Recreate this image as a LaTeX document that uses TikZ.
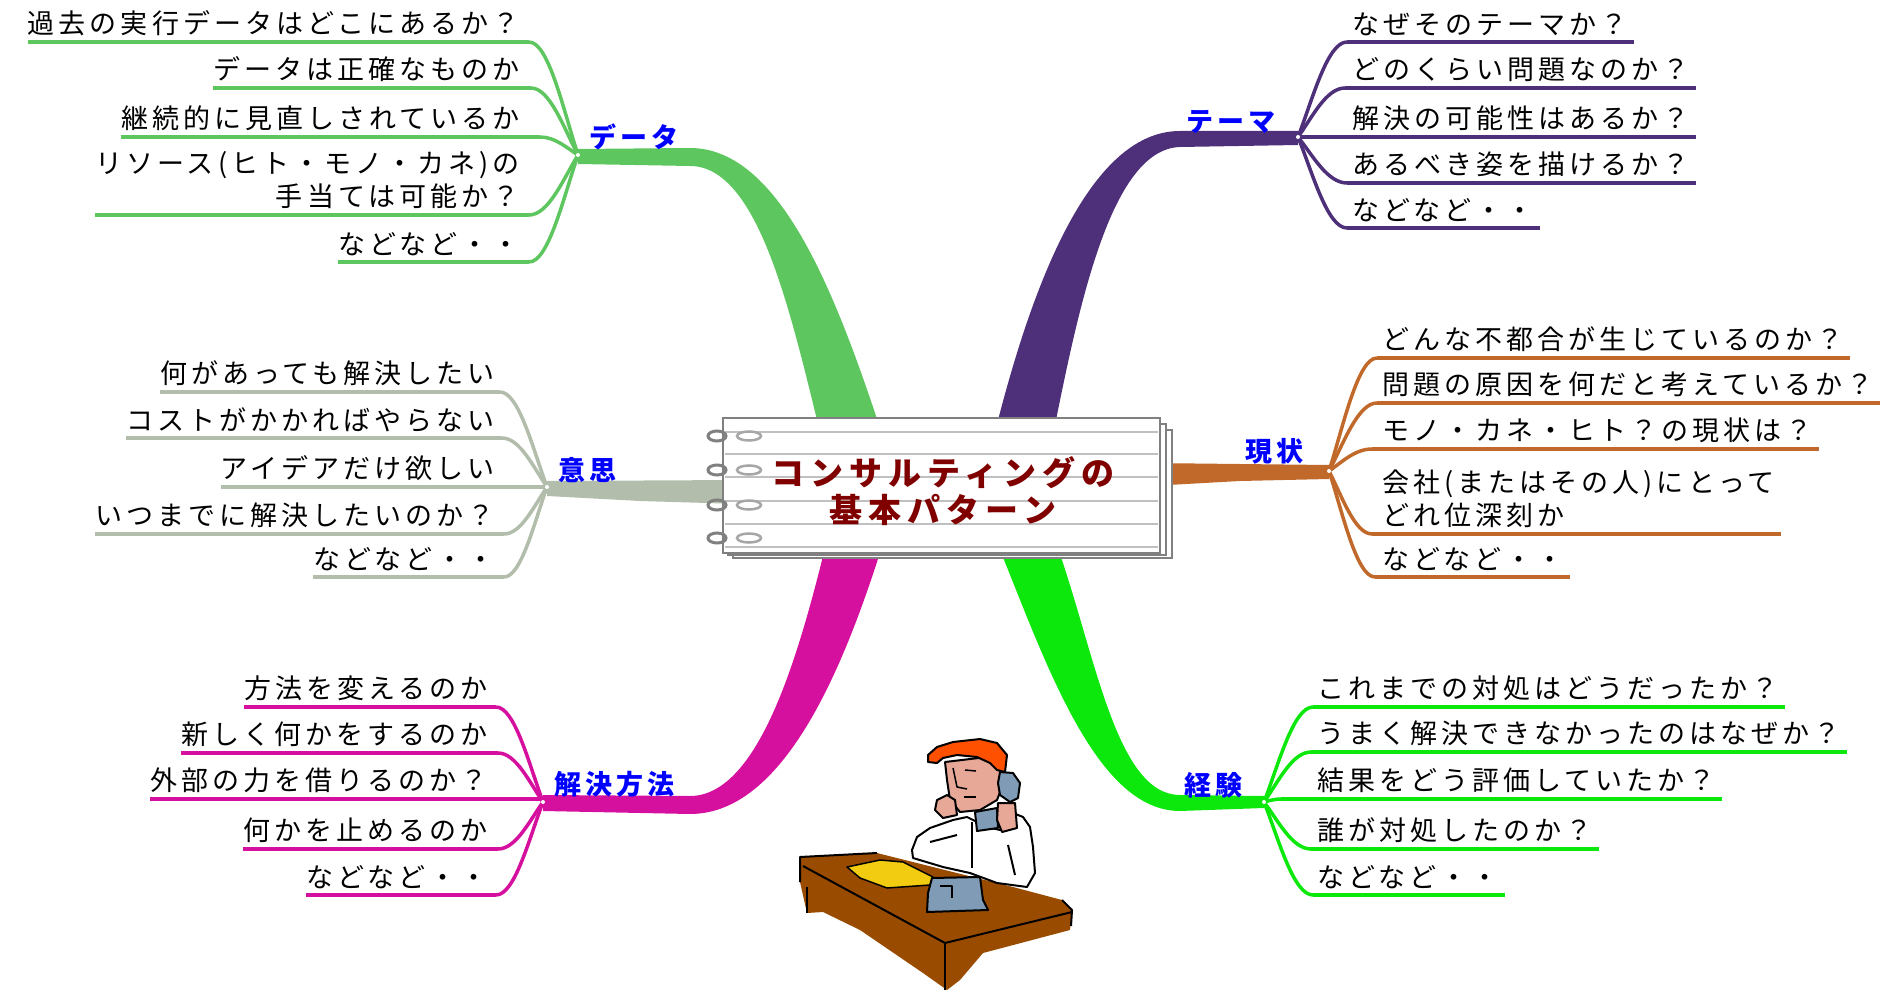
\documentclass[tikz,border=0pt]{standalone}
\usepackage{fontspec}
\newfontfamily\leaffont[LetterSpace=15]{Noto Sans CJK JP}
\newfontfamily\titlefont[LetterSpace=18]{Noto Sans CJK JP}

\definecolor{datagreen}{RGB}{94,198,94}
\definecolor{themepurple}{RGB}{78,48,122}
\definecolor{intentgray}{RGB}{178,189,172}
\definecolor{statusbrown}{RGB}{193,105,42}
\definecolor{methodpink}{RGB}{213,15,158}
\definecolor{expgreen}{RGB}{12,232,12}
\definecolor{labelblue}{RGB}{0,0,255}
\definecolor{titlered}{RGB}{128,0,0}
\definecolor{pagegray}{RGB}{128,128,128}
\definecolor{rulegray}{RGB}{192,192,192}
\definecolor{deskbrown}{RGB}{153,76,0}
\definecolor{paperyellow}{RGB}{242,204,16}
\definecolor{phoneblue}{RGB}{128,155,181}
\definecolor{skin}{RGB}{232,168,152}
\definecolor{hairorange}{RGB}{255,80,0}

\begin{document}
\begin{tikzpicture}[x=1pt, y=-1pt,
    leaf/.style={inner sep=0pt, font=\leaffont\fontsize{27}{33}\selectfont},
    lbl/.style={inner sep=0pt, anchor=south west, text=labelblue, font=\leaffont\bfseries\fontsize{27}{30}\selectfont},
    hub/.style={circle, fill=white, inner sep=0pt, minimum size=4pt},
    uline/.style={line width=4.5pt},
    twig/.style={line width=3.5pt},
    ink/.style={draw=black, line width=2pt, line join=round}]
  \useasboundingbox (0,0) rectangle (1892,992);

  % Main trunks out of the notebook
  \fill[datagreen] (578,149) -- (690,148) .. controls (782,148) and (838,300) .. (884,440)
    -- (822,440) .. controls (792,320) and (760,166) .. (690,166) -- (578,164) -- cycle;
  \fill[themepurple] (1298,131) -- (1180,131) .. controls (1088,131) and (1030,290) .. (993,440)
    -- (1052,440) .. controls (1078,310) and (1110,149) .. (1180,147) -- (1298,145) -- cycle;
  \fill[intentgray] (547,481) -- (740,480) -- (740,504) -- (640,501) -- (547,496) -- cycle;
  \fill[statusbrown] (1150,463) -- (1329,465) -- (1329,479) -- (1240,481) -- (1150,486) -- cycle;
  \fill[methodpink] (543,795) -- (690,796) .. controls (760,796) and (800,650) .. (827,540)
    -- (884,540) .. controls (845,665) and (785,814) .. (690,814) -- (543,811) -- cycle;
  \fill[expgreen] (1264,796) -- (1180,795) .. controls (1115,795) and (1095,650) .. (1055,540)
    -- (996,540) .. controls (1045,660) and (1095,811) .. (1180,811) -- (1264,808) -- cycle;

  % Data branch (top left)
  \coordinate (dj) at (578,155);
  \foreach \n/\yy/\xe/\txt in {1/42/529/{過去の実行データはどこにあるか？},
      2/88/531/{データは正確なものか},
      3/137/540/{継続的に見直しされているか},
      4/215/529/{リソース(ヒト・モノ・カネ)の\\手当ては可能か？},
      5/262/529/{などなど・・}} {
    \node[leaf, anchor=south east, align=right] (d\n) at (520,\yy-6) {\txt};
    \coordinate (du\n) at (\xe,\yy);
    \pgfmathsetmacro\cax{\xe+0.4*(578-\xe)}
    \pgfmathsetmacro\cbx{578-0.3*(578-\xe)}
    \pgfmathsetmacro\cby{155+0.4*(\yy-155)}
    \draw[twig, datagreen] (du\n) .. controls (\cax,\yy) and (\cbx,\cby) .. (dj);
    \draw[uline, datagreen] (d\n.south west |- du\n) -- (du\n);
  }
  \node[lbl] (dlbl) at (589,150) {データ};

  % Theme branch (top right)
  \coordinate (tj) at (1298,137);
  \foreach \n/\yy/\xs/\txt in {1/42/1347/{なぜそのテーマか？},
      2/88/1345/{どのくらい問題なのか？},
      3/137/1317/{解決の可能性はあるか？},
      4/183/1347/{あるべき姿を描けるか？},
      5/228/1347/{などなど・・}} {
    \node[leaf, anchor=south west, align=left] (t\n) at (1352,\yy-6) {\txt};
    \coordinate (tu\n) at (\xs,\yy);
    \pgfmathsetmacro\cax{1298+0.3*(\xs-1298)}
    \pgfmathsetmacro\cay{137+0.4*(\yy-137)}
    \pgfmathsetmacro\cbx{1298+0.6*(\xs-1298)}
    \draw[twig, themepurple] (tj) .. controls (\cax,\cay) and (\cbx,\yy) .. (tu\n);
    \draw[uline, themepurple] (tu\n) -- (t\n.south east |- tu\n) -- ++(6,0);
  }
  \node[lbl] (tlbl) at (1186,134) {テーマ};

  % Intent branch (middle left)
  \coordinate (ij) at (547,487);
  \foreach \n/\yy/\xe/\txt in {1/392/500/{何があっても解決したい},
      2/438/502/{コストがかかればやらない},
      3/487/547/{アイデアだけ欲しい},
      4/534/504/{いつまでに解決したいのか？},
      5/577/504/{などなど・・}} {
    \node[leaf, anchor=south east, align=right] (i\n) at (495,\yy-6) {\txt};
    \coordinate (iu\n) at (\xe,\yy);
    \pgfmathsetmacro\cax{\xe+0.4*(547-\xe)}
    \pgfmathsetmacro\cbx{547-0.3*(547-\xe)}
    \pgfmathsetmacro\cby{487+0.4*(\yy-487)}
    \draw[twig, intentgray] (iu\n) .. controls (\cax,\yy) and (\cbx,\cby) .. (ij);
    \draw[uline, intentgray] (i\n.south west |- iu\n) -- (iu\n);
  }
  \node[lbl] (ilbl) at (558,483) {意思};

  % Status branch (middle right)
  \coordinate (gj) at (1329,471);
  \foreach \n/\yy/\xs/\txt in {1/358/1377/{どんな不都合が生じているのか？},
      2/403/1377/{問題の原因を何だと考えているか？},
      3/449/1372/{モノ・カネ・ヒト？の現状は？},
      4/534/1372/{会社(またはその人)にとって\\どれ位深刻か},
      5/577/1375/{などなど・・}} {
    \node[leaf, anchor=south west, align=left] (g\n) at (1382,\yy-6) {\txt};
    \coordinate (gu\n) at (\xs,\yy);
    \pgfmathsetmacro\cax{1329+0.3*(\xs-1329)}
    \pgfmathsetmacro\cay{471+0.4*(\yy-471)}
    \pgfmathsetmacro\cbx{1329+0.6*(\xs-1329)}
    \draw[twig, statusbrown] (gj) .. controls (\cax,\cay) and (\cbx,\yy) .. (gu\n);
    \draw[uline, statusbrown] (gu\n) -- (g\n.south east |- gu\n) -- ++(6,0);
  }
  \node[lbl] (glbl) at (1245,464) {現状};

  % Method branch (bottom left)
  \coordinate (mj) at (543,802);
  \foreach \n/\yy/\xe/\txt in {1/707/496/{方法を変えるのか},
      2/753/498/{新しく何かをするのか},
      3/799/542/{外部の力を借りるのか？},
      4/849/498/{何かを止めるのか},
      5/895/496/{などなど・・}} {
    \node[leaf, anchor=south east, align=right] (m\n) at (488,\yy-6) {\txt};
    \coordinate (mu\n) at (\xe,\yy);
    \pgfmathsetmacro\cax{\xe+0.4*(543-\xe)}
    \pgfmathsetmacro\cbx{543-0.3*(543-\xe)}
    \pgfmathsetmacro\cby{802+0.4*(\yy-802)}
    \draw[twig, methodpink] (mu\n) .. controls (\cax,\yy) and (\cbx,\cby) .. (mj);
    \draw[uline, methodpink] (m\n.south west |- mu\n) -- (mu\n);
  }
  \node[lbl] (mlbl) at (554,798) {解決方法};

  % Experience branch (bottom right)
  \coordinate (kj) at (1264,802);
  \foreach \n/\yy/\xs/\txt in {1/707/1313/{これまでの対処はどうだったか？},
      2/752/1311/{うまく解決できなかったのはなぜか？},
      3/799/1281/{結果をどう評価していたか？},
      4/849/1311/{誰が対処したのか？},
      5/895/1313/{などなど・・}} {
    \node[leaf, anchor=south west, align=left] (k\n) at (1317,\yy-6) {\txt};
    \coordinate (ku\n) at (\xs,\yy);
    \pgfmathsetmacro\cax{1264+0.3*(\xs-1264)}
    \pgfmathsetmacro\cay{802+0.4*(\yy-802)}
    \pgfmathsetmacro\cbx{1264+0.6*(\xs-1264)}
    \draw[twig, expgreen] (kj) .. controls (\cax,\cay) and (\cbx,\yy) .. (ku\n);
    \draw[uline, expgreen] (ku\n) -- (k\n.south east |- ku\n) -- ++(6,0);
  }
  \node[lbl] (klbl) at (1184,798) {経験};

  % white knots where the twigs meet
  \foreach \j in {dj,tj,ij,gj,mj,kj}
    \node[hub] (\j dot) at (\j) {};

  % Notebook in the middle
  \draw[pagegray, line width=2pt, fill=white] (733,430) rectangle (1172,558);
  \draw[pagegray, line width=2pt, fill=white] (728,424) rectangle (1166,555);
  \draw[pagegray, line width=2.5pt, fill=white] (723,418) rectangle (1160,553);
  \foreach \yy in {432,454,477,501,524,547}
    \draw[rulegray, line width=2pt] (725,\yy) -- (1158,\yy);
  \foreach \yy in {436,470,505,538} {
    \draw[pagegray, line width=3pt] (717,\yy) ellipse [x radius=9pt, y radius=5pt];
    \draw[pagegray!70, line width=2.5pt] (749,\yy) ellipse [x radius=12pt, y radius=4.5pt];
  }
  \node[align=center, text=titlered, inner sep=0pt,
        font=\titlefont\bfseries\fontsize{33}{37}\selectfont] (title) at (943,491)
    {コンサルティングの\\基本パターン};

  % Consultant on the phone at his desk
  \fill[deskbrown] (800,857) -- (877,853) -- (1013,887) -- (1062,900) -- (1072,910) -- (1070,930)
    -- (983,953) -- (960,980) -- (947,990) -- (923,973) -- (860,930) -- (823,912) -- (807,913)
    -- (800,882) -- cycle;
  \draw[ink] (800,882) -- (800,857) -- (877,853);
  \draw[ink] (803,866) -- (945,943) -- (1072,912);
  \draw[ink] (945,943) -- (945,990);
  \draw[ink] (807,887) -- (807,913);
  \draw[ink] (1062,900) -- (1072,910) -- (1071,926);
  \filldraw[fill=white, ink] (913,858) -- (912,850) -- (917,837) -- (930,828) -- (953,820) -- (967,817)
    -- (973,820) -- (987,827) -- (1000,830) -- (1013,813) -- (1023,817) -- (1030,827) -- (1033,847)
    -- (1035,873) -- (1027,887) -- (997,883) -- (970,873) -- (943,867) -- cycle;
  \draw[ink] (972,822) -- (972,868);
  \draw[ink] (930,842) -- (957,835);
  \draw[ink] (1008,845) -- (1015,875);
  \filldraw[fill=skin, ink] (945,762) -- (987,757) -- (1000,767) -- (1002,787) -- (997,800) -- (980,810)
    -- (960,812) -- (950,800) -- (947,780) -- cycle;
  \filldraw[fill=hairorange, ink] (928,755) -- (937,747) -- (953,742) -- (980,739) -- (997,743) -- (1007,755)
    -- (1005,772) -- (997,770) -- (990,763) -- (977,757) -- (957,755) -- (943,758) -- (937,763)
    -- (928,762) -- cycle;
  \draw[ink, line width=1.5pt] (965,770) -- (976,771);
  \draw[ink, line width=1.5pt] (953,768) -- (957,787) -- (967,789);
  \draw[ink, line width=1.5pt] (964,797) -- (976,797);
  \filldraw[fill=phoneblue, ink] (1000,772) -- (1013,773) -- (1020,783) -- (1018,798) -- (1010,802)
    -- (1000,795) -- (998,783) -- cycle;
  \filldraw[fill=phoneblue, ink] (975,812) -- (997,808) -- (998,828) -- (977,831) -- cycle;
  \filldraw[fill=skin, ink] (937,800) -- (947,795) -- (955,800) -- (957,815) -- (943,818) -- (935,810) -- cycle;
  \filldraw[fill=skin, ink] (998,803) -- (1015,803) -- (1017,828) -- (1002,832) -- (997,820) -- cycle;
  \filldraw[fill=paperyellow, ink, line width=1.5pt] (847,867) -- (880,860) -- (903,862) -- (933,877)
    -- (930,885) -- (887,888) -- (860,878) -- cycle;
  \filldraw[fill=phoneblue, ink] (932,878) -- (980,877) -- (983,900) -- (988,910) -- (927,912)
    -- (928,893) -- cycle;
  \draw[ink] (940,886) -- (952,886) -- (952,898);
\end{tikzpicture}
\end{document}
